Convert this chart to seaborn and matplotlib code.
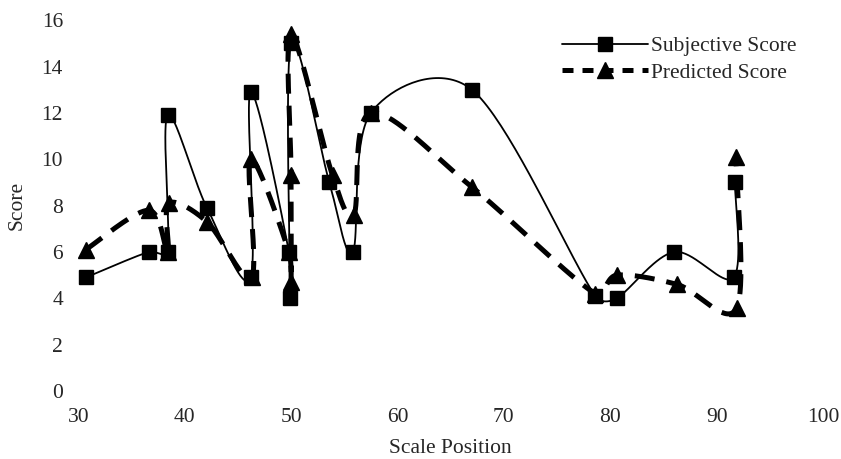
import matplotlib
matplotlib.use("Agg")
import matplotlib.pyplot as plt
from matplotlib.lines import Line2D
import seaborn as sns
import numpy as np

sns.set_theme(style="white")
plt.rcParams["font.family"] = ["Liberation Serif", "DejaVu Serif"]

# Subjective score points (in drawing order)
subj_x = [30.7, 36.6, 38.4, 38.4, 42.1, 46.2, 46.2, 49.8, 49.9, 50.0,
          53.6, 55.8, 57.5, 67.0, 78.6, 80.6, 86.0, 91.6, 91.7]
subj_y = [4.9, 6.0, 6.0, 11.9, 7.9, 4.9, 12.9, 6.0, 4.0, 15.0,
          9.0, 6.0, 12.0, 13.0, 4.1, 4.0, 6.0, 4.9, 9.0]

# Predicted score points (in drawing order)
pred_x = [30.7, 36.6, 38.4, 38.5, 42.1, 46.3, 46.2, 49.8, 50.0, 50.0,
          50.0, 53.9, 55.9, 57.5, 67.0, 78.6, 80.6, 86.3, 91.9, 91.8]
pred_y = [6.1, 7.8, 6.0, 8.1, 7.3, 4.9, 10.0, 6.0, 4.7, 9.3,
          15.4, 9.3, 7.6, 12.0, 8.8, 4.2, 5.0, 4.6, 3.6, 10.1]

x_ticks = [30, 40, 50, 60, 70, 80, 90, 100]
y_ticks = [0, 2, 4, 6, 8, 10, 12, 14, 16]

FS = 15.5
YSCALE = 2.18  # y units -> x units in screen space


def smooth(xs, ys, n=40, k=0.4):
    # Excel-like smoothed scatter line: Bezier through the points,
    # tangent lengths capped by the segment length to avoid overshoot
    p = np.column_stack([xs, np.asarray(ys) * YSCALE]).astype(float)
    p = np.vstack([p[0], p, p[-1]])
    out = []
    t = np.linspace(0, 1, n)[:, None]
    for i in range(1, len(p) - 2):
        p0, p1, p2, p3 = p[i - 1], p[i], p[i + 1], p[i + 2]
        L = np.linalg.norm(p2 - p1)
        t1 = (p2 - p0) / 6
        t2 = (p3 - p1) / 6
        for tv in (t1, t2):
            nv = np.linalg.norm(tv)
            if nv > k * L and nv > 0:
                tv *= k * L / nv
        c1 = p1 + t1
        c2 = p2 - t2
        seg = ((1 - t) ** 3) * p1 + 3 * ((1 - t) ** 2) * t * c1 \
            + 3 * (1 - t) * t ** 2 * c2 + t ** 3 * p2
        out.append(seg)
    seg = np.vstack(out)
    return seg[:, 0], seg[:, 1] / YSCALE


fig = plt.figure(figsize=(8.41, 4.59), dpi=100)
ax = fig.add_axes([0.0931, 0.148, 0.8855, 0.808])

sx, sy = smooth(subj_x, subj_y)
px, py = smooth(pred_x, pred_y)

ax.plot(px, py, color="black", linewidth=3.6, linestyle=(0, (4, 2.4)))
ax.plot(sx, sy, color="black", linewidth=1.3)
ax.plot(pred_x, pred_y, linestyle="none", marker="^", markersize=11, color="black")
ax.plot(subj_x, subj_y, linestyle="none", marker="s", markersize=10, color="black")

ax.set_xlim(30, 100)
ax.set_ylim(0, 16)
ax.set_xticks(x_ticks)
ax.set_yticks(y_ticks)
ax.tick_params(axis="x", labelsize=FS, length=0, pad=12)
ax.tick_params(axis="y", labelsize=FS, length=0, pad=11)
ax.set_xlabel("Scale Position", fontsize=FS)
ax.set_ylabel("Score", fontsize=FS)
ax.xaxis.set_label_coords(0.5, -0.156, transform=ax.transAxes)
ax.yaxis.set_label_coords(-0.082, 0.5, transform=ax.transAxes)
ax.xaxis.label.set_va("center")
ax.yaxis.label.set_va("center")
sns.despine(ax=ax, left=True, bottom=True)

handles = [
    Line2D([], [], color="black", linewidth=1.3, marker="s", markersize=10),
    Line2D([], [], color="black", linewidth=3.6, linestyle=(0, (2.2, 1.8)),
           marker="^", markersize=11),
]
ax.legend(handles, ["Subjective Score", "Predicted Score"], frameon=False,
          fontsize=FS, handlelength=4.0, handletextpad=0.15, labelspacing=0.3,
          loc="upper left", bbox_to_anchor=(562 / 841, 1 - 36 / 459),
          bbox_transform=fig.transFigure, borderpad=0, borderaxespad=0)

fig.savefig("out.png", dpi=100)
